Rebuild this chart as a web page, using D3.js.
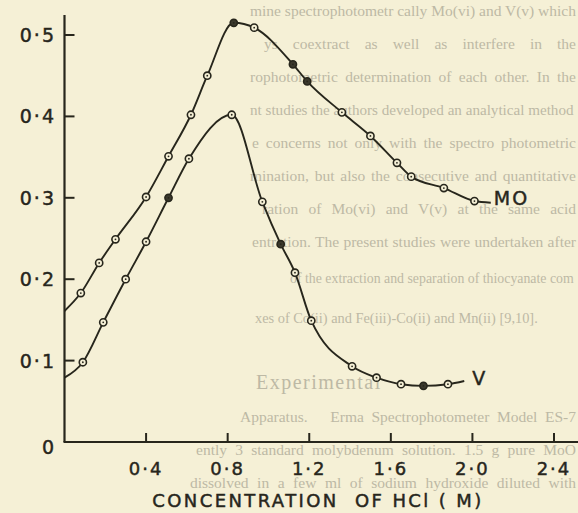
<!DOCTYPE html>
<html>
<head>
<meta charset="utf-8">
<script src="https://cdn.jsdelivr.net/npm/d3@7"></script>
<style>
  html, body { margin: 0; padding: 0; background: #f5f0d6; }
  svg { display: block; }
</style>
</head>
<body>
<svg id="chart" width="578" height="513"></svg>
<script>
// ---------------- data ----------------
const moX = [0.08, 0.17, 0.25, 0.40, 0.51, 0.62, 0.70, 0.83, 0.93, 1.12, 1.19, 1.36, 1.50, 1.63, 1.70, 1.86, 2.01];
const moY = [0.183, 0.220, 0.249, 0.301, 0.351, 0.402, 0.450, 0.515, 0.509, 0.464, 0.443, 0.405, 0.376, 0.343, 0.326, 0.312, 0.296];
const moFilled = [0, 0, 0, 0, 0, 0, 0, 1, 0, 1, 1, 0, 0, 0, 0, 0, 0];
const moLineStart = [0, 0.161];
const moLineEnd = [2.09, 0.294];

const vX = [0.09, 0.19, 0.30, 0.40, 0.51, 0.61, 0.82, 0.97, 1.06, 1.13, 1.21, 1.41, 1.53, 1.65, 1.76, 1.88];
const vY = [0.098, 0.147, 0.200, 0.246, 0.300, 0.348, 0.402, 0.295, 0.243, 0.208, 0.149, 0.093, 0.079, 0.071, 0.069, 0.071];
const vFilled = [0, 0, 0, 0, 1, 0, 0, 0, 1, 0, 0, 0, 0, 0, 1, 0];
const vLineStart = [0, 0.079];
const vLineEnd = [1.96, 0.075];

const seriesNames = ["MO", "V"];
const xTicks = [0.4, 0.8, 1.2, 1.6, 2.0, 2.4];
const xTickLabels = ["0·4", "0·8", "1·2", "1·6", "2·0", "2·4"];
const yTicks = [0, 0.1, 0.2, 0.3, 0.4, 0.5];
const yTickLabels = ["0", "0·1", "0·2", "0·3", "0·4", "0·5"];
const xTitle = "CONCENTRATION  OF HCl ( M)";

// faint show-through text of the scanned page
const ghostLines = [
  "mine spectrophotometr cally Mo(vi) and V(v) which",
  "ys coextract as well as interfere in the",
  "rophotometric determination of each other. In the",
  "nt studies the authors developed an analytical method",
  "e concerns not only with the spectro photometric",
  "mination, but also the consecutive and quantitative",
  "ration of Mo(vi) and V(v) at the same acid",
  "entration. The present studies were undertaken after",
  "of the extraction and separation of thiocyanate com",
  "xes of Co(ii) and Fe(iii)-Co(ii) and Mn(ii) [9,10].",
  "Experimental",
  "Apparatus.   Erma Spectrophotometer Model ES-7",
  "ently 3 standard molybdenum solution. 1.5 g pure MoO",
  "dissolved in a few ml of sodium hydroxide diluted with"
];
const ghostRow = [0, 1, 2, 3, 4, 5, 6, 7, 8.1, 9.3, 11.3, 12.3, 13.3, 14.3];
const ghostStart = [250, 264, 250, 250, 252, 250, 262, 252, 290, 255, 256, 240, 196, 190];
const ghostEnd = [576, 576, 576, 576, 576, 576, 576, 576, 576, 540, 396, 576, 576, 576];

// ---------------- drawing ----------------
const svg = d3.select("#chart");
const ink = "#27261c";

const x = d3.scaleLinear().domain([0, 2.4]).range([64.5, 554]);
const y = d3.scaleLinear().domain([0, 0.5]).range([442, 35]);

// ghost text: justified rows of one size; shrink only if a row is too long
const ghostSize = 15.5;
svg.append("g")
  .selectAll("text")
  .data(ghostLines)
  .join("text")
  .attr("x", (d, i) => ghostStart[i])
  .attr("y", (d, i) => 16 + ghostRow[i] * 33)
  .attr("font-family", "Liberation Serif, serif")
  .attr("font-size", ghostSize)
  .attr("fill", "#bdb9a5")
  .style("white-space", "pre")
  .text(d => d)
  .each(function (d, i) {
    const target = ghostEnd[i] - ghostStart[i];
    const natural = this.getComputedTextLength();
    const spaces = (d.match(/ /g) || []).length;
    if (natural > target) {
      this.setAttribute("font-size", ghostSize * target / natural - 0.1);
    } else if (spaces > 0) {
      this.setAttribute("word-spacing", (target - natural) / spaces);
    } else {
      const fs = Math.min(20, ghostSize * target / natural);
      this.setAttribute("font-size", fs);
      this.setAttribute("letter-spacing", 1.5);
    }
  });

// axes
const g = svg.append("g");
g.append("line")
  .attr("x1", x(0)).attr("x2", x(0))
  .attr("y1", y(0)).attr("y2", 15)
  .attr("stroke", ink).attr("stroke-width", 2.2);
g.append("line")
  .attr("x1", x(0) - 1).attr("x2", 578)
  .attr("y1", y(0)).attr("y2", y(0))
  .attr("stroke", ink).attr("stroke-width", 2.2);

const labelStyle = sel => sel
  .attr("font-family", "DejaVu Sans, sans-serif")
  .attr("fill", ink)
  .attr("stroke", ink)
  .attr("stroke-width", 0.45);

// y ticks & labels
g.selectAll(".yt").data(yTicks.filter(t => t > 0)).join("line")
  .attr("x1", x(0)).attr("x2", x(0) + 10)
  .attr("y1", d => y(d)).attr("y2", d => y(d))
  .attr("stroke", ink).attr("stroke-width", 2);
g.selectAll(".yl").data(yTicks).join("text")
  .attr("x", 56)
  .attr("y", d => y(d) + (d === 0 ? 12 : 7))
  .attr("text-anchor", "end")
  .attr("font-size", 19)
  .attr("letter-spacing", 2)
  .call(labelStyle)
  .text((d, i) => yTickLabels[i]);

// x ticks & labels
g.selectAll(".xt").data(xTicks).join("line")
  .attr("x1", d => x(d)).attr("x2", d => x(d))
  .attr("y1", y(0)).attr("y2", y(0) - 9)
  .attr("stroke", ink).attr("stroke-width", 2);
g.selectAll(".xl").data(xTicks).join("text")
  .attr("x", d => x(d))
  .attr("y", 475)
  .attr("text-anchor", "middle")
  .attr("font-size", 18)
  .attr("letter-spacing", 2)
  .call(labelStyle)
  .text((d, i) => xTickLabels[i]);

g.append("text")
  .attr("x", 318).attr("y", 507)
  .attr("text-anchor", "middle")
  .attr("font-size", 18)
  .attr("letter-spacing", 2.4)
  .call(labelStyle)
  .style("white-space", "pre")
  .text(xTitle);

// curves
const line = d3.line().x(d => x(d[0])).y(d => y(d[1])).curve(d3.curveMonotoneX);

function drawSeries(xs, ys, filled, start, end, name, labelDx, labelDy) {
  const pts = [start].concat(xs.map((v, i) => [v, ys[i]])).concat([end]);
  svg.append("path")
    .datum(pts)
    .attr("d", line)
    .attr("fill", "none")
    .attr("stroke", ink)
    .attr("stroke-width", 1.9);
  svg.append("g").selectAll("circle")
    .data(xs.map((v, i) => ({ x: v, y: ys[i], f: filled[i] })))
    .join("circle")
    .attr("cx", d => x(d.x))
    .attr("cy", d => y(d.y))
    .attr("r", 3.6)
    .attr("fill", d => d.f ? "#3a382c" : "#f5f0d6")
    .attr("stroke", ink)
    .attr("stroke-width", 1.6);
  svg.append("g").selectAll("circle")
    .data(xs.map((v, i) => ({ x: v, y: ys[i] })))
    .join("circle")
    .attr("cx", d => x(d.x))
    .attr("cy", d => y(d.y))
    .attr("r", 0.9)
    .attr("fill", ink);
  svg.append("text")
    .attr("x", x(end[0]) + labelDx)
    .attr("y", y(end[1]) + labelDy)
    .attr("font-size", 19)
    .attr("letter-spacing", 2)
    .call(labelStyle)
    .text(name);
}

drawSeries(moX, moY, moFilled, moLineStart, moLineEnd, seriesNames[0], 3, 2);
drawSeries(vX, vY, vFilled, vLineStart, vLineEnd, seriesNames[1], 8, 4);
</script>
</body>
</html>
